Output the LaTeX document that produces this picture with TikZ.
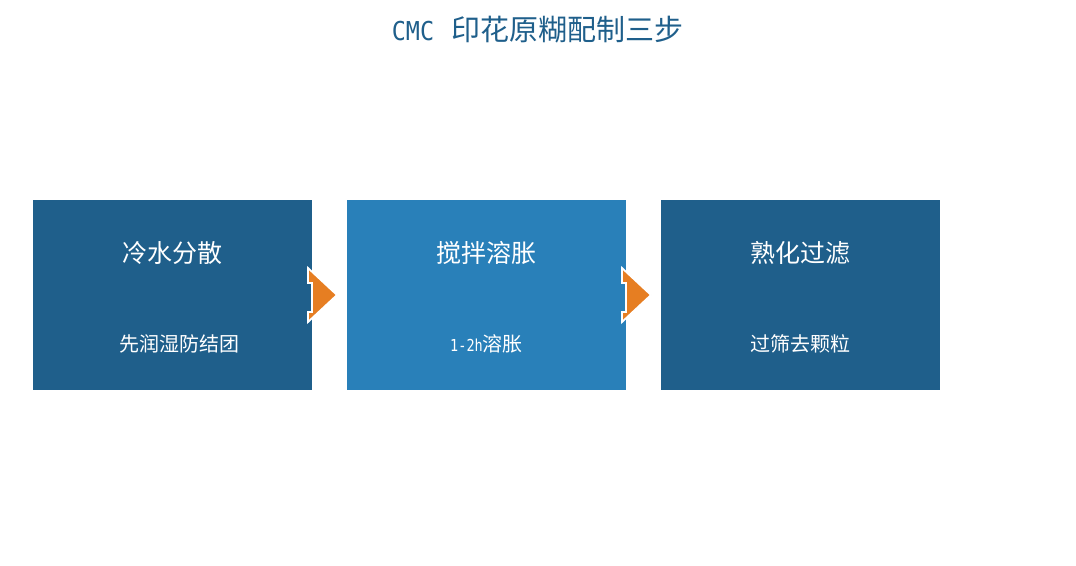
\documentclass[tikz,border=0pt]{standalone}
\usepackage{fontspec}
\usepackage{graphicx}
\setmainfont{Noto Sans CJK SC}
\newfontfamily\cjk{Noto Sans CJK SC}
\newfontfamily\monof{DejaVu Sans Mono}
\definecolor{darkblue}{HTML}{1F5F8B}
\definecolor{midblue}{HTML}{2980B9}
\definecolor{arroworange}{HTML}{E67E22}
\begin{document}
\begin{tikzpicture}[x=1pt,y=1pt,
  stepbox/.style={minimum width=279pt,minimum height=190pt,inner sep=0pt,outer sep=0pt},
  headtxt/.style={text=white,font=\cjk\fontsize{25}{29}\selectfont,inner sep=0pt},
  subtxt/.style={text=white,font=\cjk\fontsize{20}{24}\selectfont,inner sep=0pt},
  chev/.style={fill=arroworange,draw=white,line width=1.8pt,line join=miter}]
\useasboundingbox (0,0) rectangle (1076,565);
\fill[white] (0,0) rectangle (1076,565);
\node[text=darkblue,inner sep=0pt] (title) at (537.5,535)
  {\scalebox{0.9}[1]{\monof\fontsize{26}{30}\selectfont CMC}\hspace{17pt}{\cjk\fontsize{29}{33}\selectfont 印花原糊配制三步}};
\node[stepbox,fill=darkblue] (b1) at (172.5,270) {};
\node[stepbox,fill=midblue] (b2) at (486.5,270) {};
\node[stepbox,fill=darkblue] (b3) at (800,270) {};
\node[headtxt] (h1) at (172.5,312) {冷水分散};
\node[headtxt] (h2) at (486.5,312) {搅拌溶胀};
\node[headtxt] (h3) at (800,312) {熟化过滤};
\node[subtxt] (s1) at (179,221) {先润湿防结团};
\node[subtxt] (s2) at (486.5,221) {\scalebox{0.82}[1]{\monof\fontsize{16.5}{20}\selectfont 1-2h}溶胀};
\node[subtxt] (s3) at (800,221) {过筛去颗粒};
\foreach \b in {b1,b2}{
  \begin{scope}[shift={(\b.east)}]
    \draw[chev] (-4,27) -- (25,0) -- (-4,-27) -- (-4,-17) -- (0,-17) -- (0,12) -- (-4,12) -- cycle;
  \end{scope}
}
\end{tikzpicture}
\end{document}
